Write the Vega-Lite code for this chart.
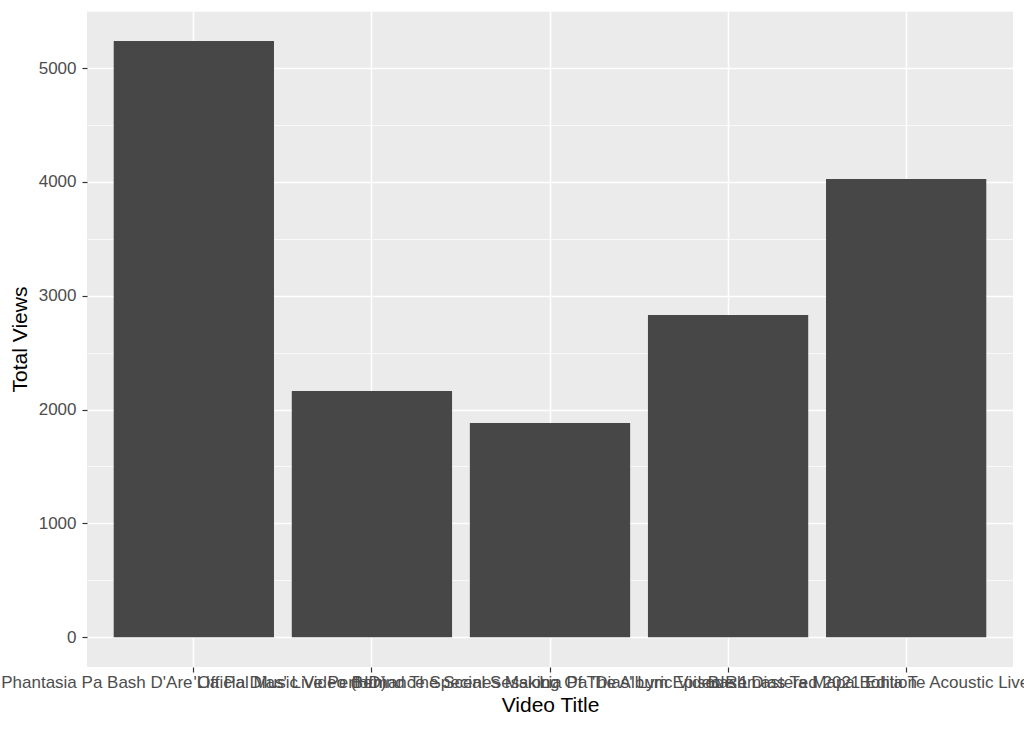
{
  "$schema": "https://vega.github.io/schema/vega-lite/v6.json",
  "autosize": {"type": "none"},
  "padding": {"left": 87, "top": 11, "right": 11, "bottom": 64},
  "width": 926,
  "height": 656,
  "background": "white",
  "config": {
    "view": {"fill": "#EBEBEB", "stroke": null},
    "font": "Liberation Sans"
  },
  "data": {
    "values": [
      {"title": "Phantasia Pa Bash D'Are Official Music Video (HD)", "views": 5238},
      {"title": "'Lia Pa Dias' Live Performance Special Session", "views": 2162},
      {"title": "Behind The Scenes Making Of The Album Episode 1", "views": 1881},
      {"title": "Lia Pa 'Dias' Lyric Video Remastered 2021 Edition", "views": 2830},
      {"title": "Bash Dias Ta Mapa Bohla Te Acoustic Live Studio Te", "views": 4025}
    ]
  },
  "mark": {"type": "bar", "color": "#474747"},
  "encoding": {
    "x": {
      "field": "title",
      "type": "nominal",
      "sort": null,
      "title": "Video Title",
      "scale": {"paddingInner": 0.1, "paddingOuter": 0.15},
      "axis": {
        "bandPosition": 0.5,
        "grid": true,
        "gridColor": "white",
        "gridWidth": 1.5,
        "domain": false,
        "tickColor": "#333333",
        "tickSize": 5,
        "tickWidth": 1.2,
        "labelAngle": 0,
        "labelOverlap": false,
        "labelLimit": 0,
        "labelFontSize": 17,
        "labelColor": "#4D4D4D",
        "labelPadding": 2,
        "titleFontSize": 21,
        "titleFontWeight": "normal",
        "titleColor": "black",
        "titlePadding": 4
      }
    },
    "y": {
      "field": "views",
      "type": "quantitative",
      "title": "Total Views",
      "scale": {"domain": [-262, 5502], "nice": false, "zero": false},
      "axis": {
        "values": [0, 500, 1000, 1500, 2000, 2500, 3000, 3500, 4000, 4500, 5000, 5500],
        "labelExpr": "datum.value % 1000 === 0 ? datum.label : ''",
        "format": "d",
        "grid": true,
        "gridColor": "white",
        "gridWidth": {"condition": {"test": "datum.value % 1000 === 0", "value": 1.5}, "value": 0.7},
        "tickOpacity": {"condition": {"test": "datum.value % 1000 === 0", "value": 1}, "value": 0},
        "domain": false,
        "tickColor": "#333333",
        "tickSize": 5,
        "tickWidth": 1.2,
        "labelFontSize": 17,
        "labelColor": "#4D4D4D",
        "labelPadding": 6,
        "titleFontSize": 21,
        "titleFontWeight": "normal",
        "titleColor": "black",
        "titlePadding": 8
      }
    }
  }
}
